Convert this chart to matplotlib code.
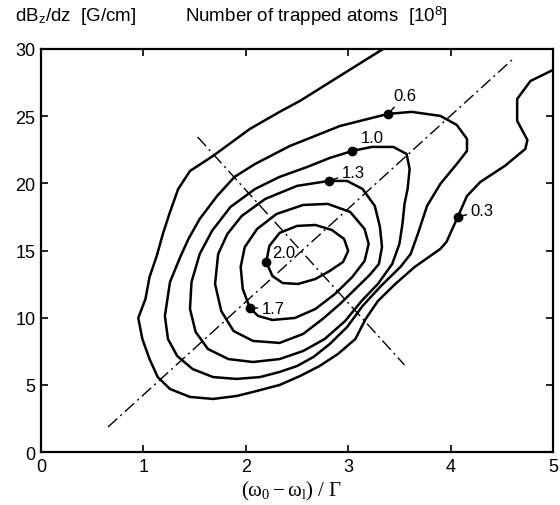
import matplotlib
matplotlib.use("Agg")
import matplotlib.pyplot as plt

plt.rcParams['font.family'] = ['Liberation Sans', 'DejaVu Sans']
plt.rcParams['mathtext.fontset'] = 'custom'
plt.rcParams['mathtext.rm'] = 'Liberation Serif'
plt.rcParams['mathtext.it'] = 'Liberation Serif:italic'
plt.rcParams['mathtext.sf'] = 'Liberation Sans'

# ---- contour lines (x = detuning / Gamma, y = gradient G/cm)
c03_x = [3.34, 2.92, 2.53, 2.33, 2.04, 1.68, 1.455, 1.34, 1.26, 1.19, 1.13, 1.06, 1.02, 0.95,
         0.99, 1.06, 1.14, 1.26, 1.455, 1.68, 1.91, 2.07, 2.33, 2.53, 2.72, 2.90, 3.07, 3.17,
         3.29, 3.46, 3.65, 3.90, 3.96, 4.07, 4.16, 4.29, 4.53, 4.73, 4.75, 4.65, 4.65, 4.78, 5.0]
c03_y = [30.0, 28.0, 26.14, 25.32, 24.05, 22.04, 20.92, 19.58, 17.87, 16.23, 14.59, 13.03, 11.39, 9.98,
         8.41, 6.92, 5.58, 4.69, 4.10, 3.95, 4.17, 4.47, 4.99, 5.66, 6.40, 7.30, 8.41, 9.90,
         11.24, 12.51, 13.78, 15.12, 15.64, 17.50, 19.06, 20.10, 21.30, 22.56, 23.23, 24.65, 26.28, 27.62, 28.44]

c06_x = [3.39, 3.62, 3.90, 4.06, 4.16, 4.16, 4.06, 3.90, 3.77, 3.68, 3.61, 3.51, 3.32, 3.14, 2.99,
         2.82, 2.66, 2.50, 2.33, 2.14, 1.91, 1.68, 1.48, 1.33, 1.24, 1.21, 1.26, 1.36, 1.44, 1.55,
         1.72, 1.89, 2.09, 2.43, 2.92, 3.39]
c06_y = [25.17, 25.32, 25.02, 24.35, 23.31, 22.41, 21.44, 19.96, 18.32, 16.23, 14.74, 13.78, 12.36, 10.87, 9.31,
         8.04, 7.07, 6.40, 5.96, 5.58, 5.44, 5.58, 6.18, 7.15, 8.41, 10.13, 12.66, 14.52, 15.86, 17.35,
         19.06, 20.48, 21.44, 22.78, 24.27, 25.17]

c10_x = [3.04, 3.23, 3.44, 3.57, 3.60, 3.58, 3.55, 3.53, 3.50, 3.43, 3.29, 3.13, 2.97, 2.77, 2.56,
         2.33, 2.07, 1.83, 1.63, 1.51, 1.455, 1.47, 1.55, 1.67, 1.85, 2.09, 2.33, 2.60, 2.82, 3.04]
c10_y = [22.41, 22.71, 22.71, 22.19, 21.07, 19.58, 18.47, 16.98, 15.49, 14.00, 12.51, 11.24, 9.75, 8.41, 7.52,
         6.92, 6.70, 6.92, 7.67, 8.94, 10.65, 12.66, 14.74, 16.46, 18.24, 19.58, 20.48, 21.22, 21.89, 22.41]

c13_x = [2.81, 2.99, 3.14, 3.26, 3.31, 3.33, 3.30, 3.21, 3.07, 2.92, 2.75, 2.56, 2.33, 2.07, 1.88,
         1.76, 1.70, 1.73, 1.82, 1.96, 2.19, 2.50, 2.81]
c13_y = [20.18, 20.18, 19.58, 18.32, 16.75, 15.26, 14.00, 13.18, 12.14, 11.02, 9.90, 8.79, 8.12, 8.27, 9.01,
         10.50, 12.51, 14.74, 16.23, 17.57, 18.84, 19.81, 20.18]

c17_x = [2.04, 1.97, 1.95, 1.99, 2.11, 2.30, 2.56, 2.80, 3.02, 3.16, 3.20, 3.16, 3.04, 2.87, 2.68,
         2.48, 2.26, 2.12, 2.04]
c17_y = [10.72, 12.14, 13.78, 15.26, 16.60, 17.72, 18.39, 18.47, 17.87, 16.60, 15.49, 14.22, 13.03, 11.76, 10.65,
         9.98, 9.83, 10.13, 10.72]

c20_x = [2.20, 2.23, 2.33, 2.50, 2.68, 2.84, 2.96, 3.00, 2.95, 2.82, 2.68, 2.51, 2.36, 2.26, 2.20]
c20_y = [14.15, 15.34, 16.31, 16.83, 16.90, 16.53, 15.86, 14.97, 14.15, 13.48, 12.88, 12.51, 12.58, 13.10, 14.15]

contours_x = [c03_x, c06_x, c10_x, c13_x, c17_x, c20_x]
contours_y = [c03_y, c06_y, c10_y, c13_y, c17_y, c20_y]

# contour labels: text, dot position, text offset (pixels)
label_text = ['0.3', '0.6', '1.0', '1.3', '2.0', '1.7']
label_x = [4.07, 3.39, 3.04, 2.81, 2.20, 2.04]
label_y = [17.50, 25.17, 22.41, 20.18, 14.15, 10.72]
label_dx = [13, 5, 8, 13, 6, 12]
label_dy = [6, 18, 13, 8, 9, 0]

# dash-dot guide lines (end points)
diag_x = [0.654, 4.61]
diag_y = [1.86, 29.26]
perp_x = [1.53, 3.55]
perp_y = [23.45, 6.48]

x_ticks = [0, 1, 2, 3, 4, 5]
y_ticks = [0, 5, 10, 15, 20, 25, 30]

fig = plt.figure(figsize=(5.6, 5.06), dpi=100)
ax = fig.add_axes([0.0732, 0.1047, 0.9143, 0.7965])

for cx, cy in zip(contours_x, contours_y):
    ax.plot(cx, cy, color='black', lw=1.8, solid_joinstyle='round', solid_capstyle='round')

ax.plot(diag_x, diag_y, color='black', lw=1.0, linestyle=(0, (9, 3, 1.5, 3)))
ax.plot(perp_x, perp_y, color='black', lw=1.0, linestyle=(0, (9, 3, 1.5, 3)))

for t, lx, ly, dx, dy in zip(label_text, label_x, label_y, label_dx, label_dy):
    ax.plot([lx], [ly], 'o', color='black', markersize=6)
    ax.annotate(t, xy=(lx, ly), xytext=(dx, dy), textcoords='offset pixels',
                ha='left', va='center', fontsize=12,
                arrowprops=dict(arrowstyle='-', lw=1.0, color='black', shrinkA=1, shrinkB=0))

ax.set_xlim(0, 5)
ax.set_ylim(0, 30)
ax.set_xticks(x_ticks)
ax.set_yticks(y_ticks)
ax.set_xticklabels([str(v) for v in x_ticks])
ax.set_yticklabels([str(v) for v in y_ticks])
ax.tick_params(direction='in', length=5, width=1.2, top=True, right=True,
               labelsize=13, pad=4)
for s in ax.spines.values():
    s.set_linewidth(1.6)

fig.text(0.027, 0.968, r"dB$_\mathsf{z}$/dz  [G/cm]", fontsize=13.5, ha='left', va='center')
fig.text(0.330, 0.968, r"Number of trapped atoms  [10$^\mathsf{8}$]", fontsize=13.5, ha='left', va='center')
fig.text(0.52, 0.028, r"$(\mathrm{\omega}_0 - \mathrm{\omega}_\mathrm{l})\ /\ \Gamma$", fontsize=15,
         ha='center', va='center')

fig.savefig('out.png', dpi=100)
